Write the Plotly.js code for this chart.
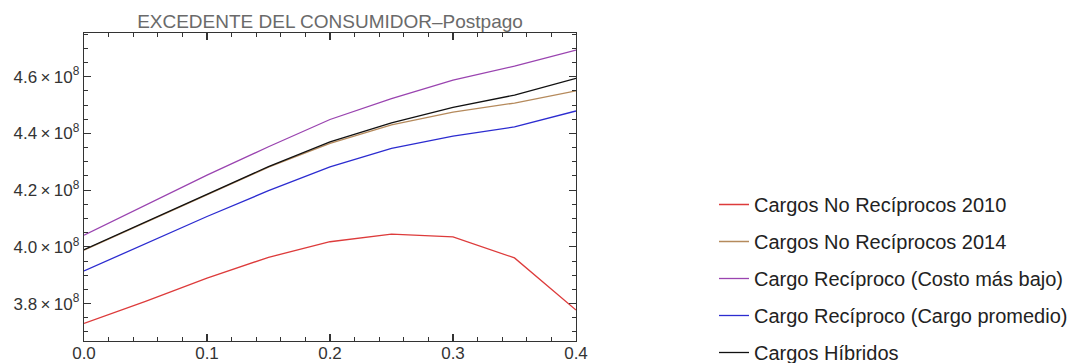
<!DOCTYPE html>
<html>
<head>
<meta charset="utf-8">
<script src="https://cdn.plot.ly/plotly-3.0.1.min.js"></script>
<style>html,body{margin:0;padding:0;background:#fff;}#chart{width:1078px;height:363px;}</style>
</head>
<body>
<div id="chart"></div>
<script>
// Data
const xVals = [0, 0.05, 0.1, 0.15, 0.2, 0.25, 0.3, 0.35, 0.4];
const noRecip2010 = [3.730e8, 3.808e8, 3.890e8, 3.963e8, 4.018e8, 4.045e8, 4.035e8, 3.961e8, 3.777e8];
const noRecip2014 = [3.988e8, 4.086e8, 4.183e8, 4.281e8, 4.365e8, 4.430e8, 4.475e8, 4.507e8, 4.550e8];
const recipBajo   = [4.041e8, 4.147e8, 4.253e8, 4.353e8, 4.449e8, 4.523e8, 4.588e8, 4.637e8, 4.694e8];
const recipProm   = [3.915e8, 4.011e8, 4.107e8, 4.198e8, 4.282e8, 4.347e8, 4.390e8, 4.423e8, 4.479e8];
const hibridos    = [3.990e8, 4.088e8, 4.185e8, 4.283e8, 4.370e8, 4.437e8, 4.492e8, 4.535e8, 4.594e8];

const seriesNames = [
  "Cargos No Recíprocos 2010",
  "Cargos No Recíprocos 2014",
  "Cargo Recíproco (Costo más bajo)",
  "Cargo Recíproco (Cargo promedio)",
  "Cargos Híbridos"
];
const seriesValues = [noRecip2010, noRecip2014, recipBajo, recipProm, hibridos];
const seriesColors = ["#dd3b3b", "#b58a5c", "#9a44b0", "#2c2cd0", "#111111"];

const yTickVals = [3.8e8, 4.0e8, 4.2e8, 4.4e8, 4.6e8];
const yMinorVals = [3.7e8, 3.75e8, 3.85e8, 3.9e8, 3.95e8, 4.05e8, 4.1e8, 4.15e8, 4.25e8, 4.3e8, 4.35e8, 4.45e8, 4.5e8, 4.55e8, 4.65e8, 4.7e8, 4.75e8];
const yTickText = ["3.8", "4.0", "4.2", "4.4", "4.6"].map(s => s + "\u2009×\u200910<sup>8</sup>");
const xTickVals = [0, 0.1, 0.2, 0.3, 0.4];
const xTickText = ["0.0", "0.1", "0.2", "0.3", "0.4"];
const xRange = [0, 0.4];
const yRange = [3.668e8, 4.754e8];
const titleText = "EXCEDENTE DEL CONSUMIDOR–Postpago";

const FONT = '"Liberation Sans", Arial, sans-serif';

const traces = seriesValues.map((vals, i) => ({
  x: xVals, y: vals, type: "scatter", mode: "lines",
  name: seriesNames[i], legendgroup: "g" + i,
  line: {color: seriesColors[i], width: 1.3}
}));
// empty helper trace so the top/right frame axes get drawn
traces.push({x: [], y: [], type: "scatter", mode: "lines", xaxis: "x2", yaxis: "y2",
             showlegend: false, hoverinfo: "skip"});

const axisCommon = {
  showgrid: false, zeroline: false, showline: true, linecolor: "#333", linewidth: 1.2,
  mirror: "ticks", ticks: "inside", ticklen: 7, tickwidth: 1.2, tickcolor: "#333",
  tickfont: {family: FONT, size: 17, color: "#333"}
};
const xMinor = {ticks: "inside", ticklen: 4, dtick: 0.02, tickcolor: "#333", tickwidth: 1};
const yMinor = {ticks: "inside", ticklen: 4, tickvals: yMinorVals, tickcolor: "#333", tickwidth: 1};

const layout = {
  width: 1078, height: 363,
  paper_bgcolor: "#fff", plot_bgcolor: "#fff",
  margin: {l: 84, r: 502, t: 33, b: 22},
  font: {family: FONT},
  title: {text: titleText, font: {family: FONT, size: 19, color: "#6a6a6a"},
          x: 330/1078, xanchor: "center", xref: "container",
          y: 1 - 21/363, yanchor: "middle", yref: "container"},
  xaxis: Object.assign({}, axisCommon, {
    range: xRange, tickvals: xTickVals, ticktext: xTickText,
    ticklabelstandoff: -4, minor: xMinor
  }),
  yaxis: Object.assign({}, axisCommon, {
    range: yRange, tickvals: yTickVals, ticktext: yTickText, minor: yMinor
  }),
  xaxis2: Object.assign({}, axisCommon, {
    overlaying: "x", side: "top", anchor: "y2", range: xRange, tickvals: xTickVals,
    showticklabels: false, mirror: false, minor: xMinor
  }),
  yaxis2: Object.assign({}, axisCommon, {
    overlaying: "y", side: "right", anchor: "x2", range: yRange, tickvals: yTickVals,
    showticklabels: false, mirror: false, minor: yMinor
  }),
  showlegend: true,
  legend: {
    xref: "container", yref: "container",
    x: 714/1078, xanchor: "left",
    y: 1 - 185/363, yanchor: "top",
    font: {family: FONT, size: 20, color: "#222"},
    traceorder: "grouped", tracegroupgap: 8,
    bgcolor: "rgba(0,0,0,0)"
  }
};

Plotly.newPlot("chart", traces, layout, {displayModeBar: false, staticPlot: true});
</script>
</body>
</html>
